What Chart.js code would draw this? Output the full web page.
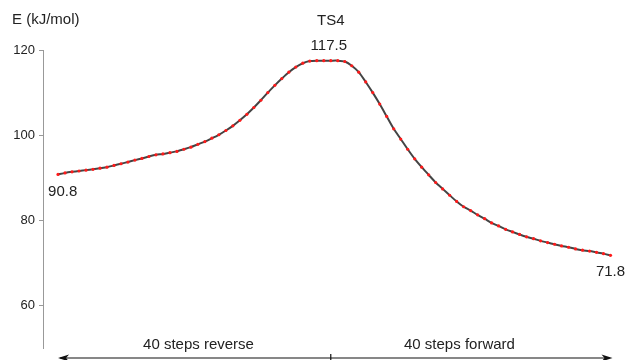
<!DOCTYPE html>
<html>
<head>
<meta charset="utf-8">
<script src="https://cdn.jsdelivr.net/npm/chart.js@4/dist/chart.umd.min.js"></script>
<style>
  html, body { margin: 0; padding: 0; background: #fff; }
  #wrap { width: 628px; height: 360px; }
</style>
</head>
<body>
<div id="wrap"><canvas id="c" width="628" height="360"></canvas></div>
<script>
// Energy profile along the reaction path (kJ/mol), one value per step
const energies = [
  90.8, 91.15, 91.4, 91.6, 91.8, 92.0, 92.25, 92.5, 92.9, 93.3,
  93.7, 94.15, 94.55, 95.0, 95.4, 95.6, 95.9, 96.2, 96.7, 97.2,
  97.85, 98.5, 99.3, 100.1, 101.1, 102.2, 103.5, 104.9, 106.5, 108.2,
  110.0, 111.7, 113.3, 114.8, 116.0, 116.9, 117.4, 117.5, 117.5, 117.5,
  117.5, 117.3, 116.3, 114.8, 112.5, 110.0, 107.3, 104.4, 101.5, 99.1,
  96.7, 94.45, 92.5, 90.7, 88.9, 87.4, 85.9, 84.45, 83.2, 82.3,
  81.3, 80.4, 79.4, 78.7, 77.9, 77.3, 76.7, 76.15, 75.7, 75.2,
  74.8, 74.4, 74.0, 73.7, 73.3, 73.0, 72.8, 72.5, 72.2, 71.8
];
const tsIndex = 39;          // transition state on the path
const tsName = 'TS4';
const yTicks = [60, 80, 100, 120];
const axisTitle = 'E (kJ/mol)';
const reverseLabel = '40 steps reverse';
const forwardLabel = '40 steps forward';

const FONT = '"Liberation Sans", Arial, Helvetica, sans-serif';
const TEXT = '#222';

const annotations = {
  id: 'annotations',
  afterDraw(chart) {
    const ctx = chart.ctx;
    const xs = chart.scales.x;
    const meta = chart.getDatasetMeta(0).data;
    const first = meta[0], last = meta[meta.length - 1], ts = meta[tsIndex];
    ctx.save();
    ctx.fillStyle = TEXT;
    ctx.textBaseline = 'middle';

    // axis title
    ctx.font = '15px ' + FONT;
    ctx.textAlign = 'left';
    ctx.fillText(axisTitle, 12, 20);

    // transition state name and energy
    ctx.textAlign = 'center';
    ctx.fillText(tsName, ts.x, 21);
    ctx.fillText(energies[tsIndex].toFixed(1), ts.x - 2, ts.y - 15);

    // end-point energies
    ctx.textAlign = 'left';
    ctx.fillText(energies[0].toFixed(1), first.x - 10, first.y + 17);
    ctx.textAlign = 'center';
    ctx.fillText(energies[energies.length - 1].toFixed(1), last.x, last.y + 17);

    // double arrow marking the two halves of the path
    const x0 = xs.getPixelForValue(0);
    const x1 = xs.getPixelForValue(energies.length - 1);
    const xm = xs.getPixelForValue(tsIndex);
    const ya = 358;
    ctx.strokeStyle = '#111';
    ctx.lineWidth = 1.2;
    ctx.beginPath();
    ctx.moveTo(x0 + 2, ya);
    ctx.lineTo(x1 - 2, ya);
    ctx.moveTo(xm, ya - 4);
    ctx.lineTo(xm, ya + 3);
    ctx.stroke();
    ctx.fillStyle = '#111';
    ctx.beginPath();
    ctx.moveTo(x0, ya);
    ctx.lineTo(x0 + 11, ya - 3.5);
    ctx.lineTo(x0 + 8, ya);
    ctx.lineTo(x0 + 11, ya + 3.5);
    ctx.closePath();
    ctx.fill();
    ctx.beginPath();
    ctx.moveTo(x1 + 2, ya);
    ctx.lineTo(x1 - 9, ya - 3.5);
    ctx.lineTo(x1 - 6, ya);
    ctx.lineTo(x1 - 9, ya + 3.5);
    ctx.closePath();
    ctx.fill();

    ctx.fillStyle = TEXT;
    ctx.textAlign = 'center';
    ctx.fillText(reverseLabel, x0 + 0.515 * (xm - x0), 345);
    ctx.fillText(forwardLabel, xm + 0.46 * (x1 - xm), 345);
    ctx.restore();
  }
};

new Chart(document.getElementById('c'), {
  type: 'line',
  data: {
    datasets: [{
      data: energies.map((v, i) => ({ x: i, y: v })),
      borderColor: '#444',
      borderWidth: 2,
      tension: 0.2,
      pointRadius: 1.6,
      pointBorderWidth: 0,
      pointBackgroundColor: '#ff1a1a',
      clip: false
    }]
  },
  options: {
    responsive: false,
    devicePixelRatio: 1,
    animation: false,
    layout: { padding: { top: 50, right: 14, bottom: 7, left: 0 } },
    plugins: { legend: { display: false }, tooltip: { enabled: false } },
    scales: {
      x: { type: 'linear', display: false, min: -2.15, max: 79.5 },
      y: {
        min: 50, max: 120,
        afterBuildTicks(scale) { scale.ticks = yTicks.map(v => ({ value: v })); },
        afterFit(scale) { scale.width = 43; },
        grid: { drawOnChartArea: false, drawTicks: true, tickLength: 4, color: '#999' },
        border: { color: '#999', width: 1 },
        ticks: { font: { family: FONT, size: 13 }, color: TEXT, padding: 4 }
      }
    }
  },
  plugins: [annotations]
});
</script>
</body>
</html>
